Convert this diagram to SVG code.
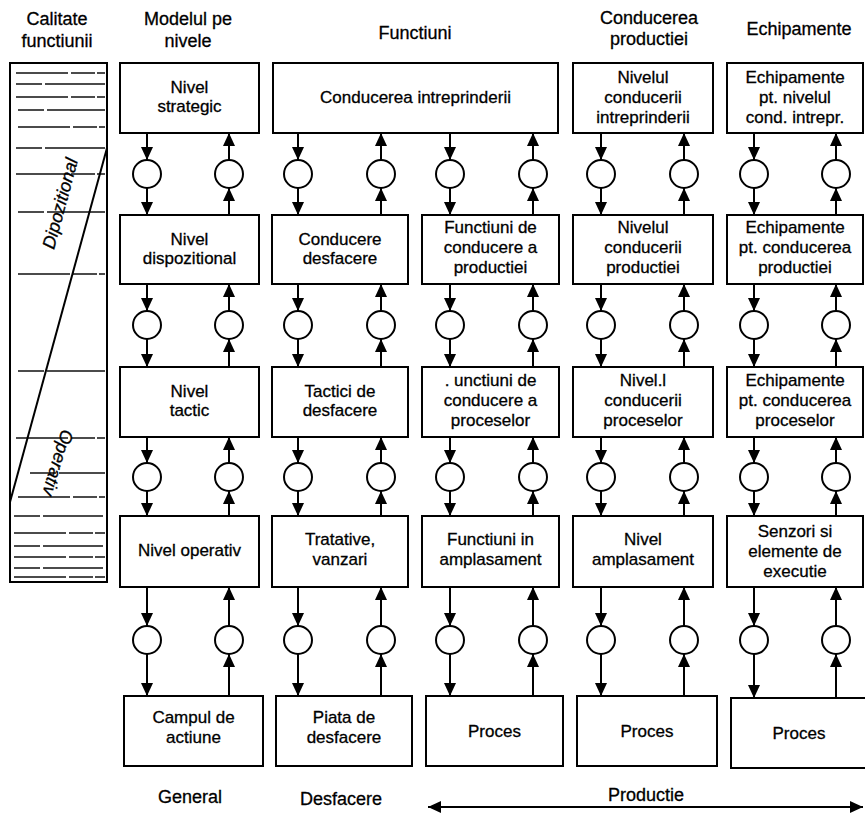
<svg xmlns="http://www.w3.org/2000/svg" width="865" height="814" viewBox="0 0 865 814">
  <defs>
    <marker id="arr" markerUnits="userSpaceOnUse" markerWidth="13" markerHeight="12" refX="13" refY="6" orient="auto">
      <path d="M0,0 L13,6 L0,12 Z" fill="#000"/>
    </marker>
    <marker id="arr2" markerUnits="userSpaceOnUse" markerWidth="13" markerHeight="12" refX="13" refY="6" orient="auto-start-reverse">
      <path d="M0,0 L13,6 L0,12 Z" fill="#000"/>
    </marker>
    <style>
      text { font-family: "Liberation Sans", Arial, sans-serif; fill: #000; stroke: #000; stroke-width: 0.3; }
      .hdr { font-size: 18px; text-anchor: middle; }
      .lbl { font-size: 17px; text-anchor: middle; }
      .side { font-size: 18px; font-style: italic; text-anchor: middle; }
      .box { fill: #fff; stroke: #000; stroke-width: 2; }
      .conn path { fill: none; stroke: #000; stroke-width: 2; marker-end: url(#arr); }
      .conn circle { fill: #fff; stroke: #000; stroke-width: 2; }
      .stripe { stroke: #111; stroke-width: 1.3; }
      .s1 { stroke-dasharray: 52 3 24 2; }
      .s2 { stroke-dasharray: 26 3 60 3; }
    </style>
  </defs>
  <rect width="865" height="814" fill="#fff"/>

  <!-- column headings -->
  <g id="headers">
    <text class="hdr" x="57" y="25">Calitate</text>
    <text class="hdr" x="57" y="47">functiunii</text>
    <text class="hdr" x="188" y="25">Modelul pe</text>
    <text class="hdr" x="188" y="47">nivele</text>
    <text class="hdr" x="415" y="39">Functiuni</text>
    <text class="hdr" x="649" y="24">Conducerea</text>
    <text class="hdr" x="649" y="45">productiei</text>
    <text class="hdr" x="799" y="35">Echipamente</text>
  </g>

  <!-- quality-of-function scale -->
  <g id="scale">
    <rect x="10" y="63" width="97" height="519" fill="#fff" stroke="#000" stroke-width="2"/>
    <g class="stripe">
      <line class="s1" x1="16" y1="73" x2="105" y2="73"/>
      <line class="s2" x1="16" y1="84" x2="105" y2="84"/>
      <line class="s1" x1="16" y1="97" x2="105" y2="97"/>
      <line class="s2" x1="18" y1="110" x2="105" y2="110"/>
      <line class="s1" x1="18" y1="127" x2="105" y2="127"/>
      <line class="s2" x1="16" y1="148" x2="105" y2="148"/>
      <line class="s1" x1="16" y1="174" x2="105" y2="174"/>
      <line class="s2" x1="18" y1="212" x2="105" y2="212"/>
      <line class="s1" x1="18" y1="274" x2="105" y2="274"/>
      <line class="s2" x1="18" y1="371" x2="105" y2="371"/>
      <line class="s1" x1="16" y1="438" x2="105" y2="438"/>
      <line class="s2" x1="30" y1="473" x2="105" y2="473"/>
      <line class="s1" x1="18" y1="497" x2="105" y2="497"/>
      <line class="s2" x1="14" y1="516" x2="105" y2="516"/>
      <line class="s1" x1="14" y1="533" x2="105" y2="533"/>
      <line class="s2" x1="14" y1="546" x2="105" y2="546"/>
      <line class="s1" x1="14" y1="557" x2="105" y2="557"/>
      <line class="s2" x1="14" y1="568" x2="105" y2="568"/>
      <line class="s1" x1="14" y1="577" x2="105" y2="577"/>
    </g>
    <line x1="10" y1="502" x2="107" y2="148" stroke="#000" stroke-width="2"/>
    <text class="side" transform="translate(66,205) rotate(-75)">Dipozitional</text>
    <text class="side" transform="translate(52,461) rotate(107)">Operativ</text>
  </g>

  <!-- connectors: arrows through the interface circles -->
  <g id="connectors" class="conn">
    <!-- column 1 -->
    <path d="M147 133V160"/><path d="M147 188V215"/><path d="M229 215V188"/><path d="M229 160V133"/>
    <path d="M147 284V311"/><path d="M147 339V367"/><path d="M229 367V339"/><path d="M229 311V284"/>
    <path d="M147 437V463"/><path d="M147 491V516"/><path d="M229 516V491"/><path d="M229 463V437"/>
    <path d="M147 587V626"/><path d="M147 654V696"/><path d="M229 696V654"/><path d="M229 626V587"/>
    <!-- column 2 -->
    <path d="M298 133V160"/><path d="M298 188V215"/><path d="M381 215V188"/><path d="M381 160V133"/>
    <path d="M298 284V311"/><path d="M298 339V367"/><path d="M381 367V339"/><path d="M381 311V284"/>
    <path d="M298 437V463"/><path d="M298 491V516"/><path d="M381 516V491"/><path d="M381 463V437"/>
    <path d="M298 587V626"/><path d="M298 654V696"/><path d="M381 696V654"/><path d="M381 626V587"/>
    <!-- column 3 -->
    <path d="M450 133V160"/><path d="M450 188V215"/><path d="M533 215V188"/><path d="M533 160V133"/>
    <path d="M450 284V311"/><path d="M450 339V367"/><path d="M533 367V339"/><path d="M533 311V284"/>
    <path d="M450 437V463"/><path d="M450 491V516"/><path d="M533 516V491"/><path d="M533 463V437"/>
    <path d="M450 587V626"/><path d="M450 654V696"/><path d="M533 696V654"/><path d="M533 626V587"/>
    <!-- column 4 -->
    <path d="M601 133V160"/><path d="M601 188V215"/><path d="M684 215V188"/><path d="M684 160V133"/>
    <path d="M601 284V311"/><path d="M601 339V367"/><path d="M684 367V339"/><path d="M684 311V284"/>
    <path d="M601 437V463"/><path d="M601 491V516"/><path d="M684 516V491"/><path d="M684 463V437"/>
    <path d="M601 587V626"/><path d="M601 654V696"/><path d="M684 696V654"/><path d="M684 626V587"/>
    <!-- column 5 -->
    <path d="M754 133V160"/><path d="M754 188V215"/><path d="M836 215V188"/><path d="M836 160V133"/>
    <path d="M754 284V311"/><path d="M754 339V367"/><path d="M836 367V339"/><path d="M836 311V284"/>
    <path d="M754 437V463"/><path d="M754 491V516"/><path d="M836 516V491"/><path d="M836 463V437"/>
    <path d="M754 587V626"/><path d="M754 654V698"/><path d="M836 698V654"/><path d="M836 626V587"/>

    <circle cx="147" cy="174" r="14"/><circle cx="229" cy="174" r="14"/>
    <circle cx="298" cy="174" r="14"/><circle cx="381" cy="174" r="14"/>
    <circle cx="450" cy="174" r="14"/><circle cx="533" cy="174" r="14"/>
    <circle cx="601" cy="174" r="14"/><circle cx="684" cy="174" r="14"/>
    <circle cx="754" cy="174" r="14"/><circle cx="836" cy="174" r="14"/>

    <circle cx="147" cy="325" r="14"/><circle cx="229" cy="325" r="14"/>
    <circle cx="298" cy="325" r="14"/><circle cx="381" cy="325" r="14"/>
    <circle cx="450" cy="325" r="14"/><circle cx="533" cy="325" r="14"/>
    <circle cx="601" cy="325" r="14"/><circle cx="684" cy="325" r="14"/>
    <circle cx="754" cy="325" r="14"/><circle cx="836" cy="325" r="14"/>

    <circle cx="147" cy="477" r="14"/><circle cx="229" cy="477" r="14"/>
    <circle cx="298" cy="477" r="14"/><circle cx="381" cy="477" r="14"/>
    <circle cx="450" cy="477" r="14"/><circle cx="533" cy="477" r="14"/>
    <circle cx="601" cy="477" r="14"/><circle cx="684" cy="477" r="14"/>
    <circle cx="754" cy="477" r="14"/><circle cx="836" cy="477" r="14"/>

    <circle cx="147" cy="640" r="14"/><circle cx="229" cy="640" r="14"/>
    <circle cx="298" cy="640" r="14"/><circle cx="381" cy="640" r="14"/>
    <circle cx="450" cy="640" r="14"/><circle cx="533" cy="640" r="14"/>
    <circle cx="601" cy="640" r="14"/><circle cx="684" cy="640" r="14"/>
    <circle cx="754" cy="640" r="14"/><circle cx="836" cy="640" r="14"/>

    <!-- production span arrow, heads at both ends -->
    <path d="M428 807H863" style="marker-start:url(#arr2);marker-end:url(#arr2)"/>
  </g>

  <!-- row 1 -->
  <g id="nivel-strategic">
    <rect class="box" x="120" y="63" width="139" height="70"/>
    <text class="lbl" x="189.5" y="93">Nivel</text>
    <text class="lbl" x="189.5" y="112">strategic</text>
  </g>
  <g id="conducerea-intreprinderii">
    <rect class="box" x="273" y="63" width="285" height="70"/>
    <text class="lbl" x="415.5" y="103">Conducerea intreprinderii</text>
  </g>
  <g id="nivelul-conducerii-intreprinderii">
    <rect class="box" x="573" y="63" width="140" height="70"/>
    <text class="lbl" x="643" y="83">Nivelul</text>
    <text class="lbl" x="643" y="103">conducerii</text>
    <text class="lbl" x="643" y="123">intreprinderii</text>
  </g>
  <g id="echipamente-intrepr">
    <rect class="box" x="727" y="63" width="136" height="70"/>
    <text class="lbl" x="795" y="83">Echipamente</text>
    <text class="lbl" x="795" y="103">pt. nivelul</text>
    <text class="lbl" x="795" y="123">cond. intrepr.</text>
  </g>

  <!-- row 2 -->
  <g id="nivel-dispozitional">
    <rect class="box" x="120" y="215" width="139" height="69"/>
    <text class="lbl" x="189.5" y="245">Nivel</text>
    <text class="lbl" x="189.5" y="264">dispozitional</text>
  </g>
  <g id="conducere-desfacere">
    <rect class="box" x="272" y="215" width="136" height="69"/>
    <text class="lbl" x="340" y="245">Conducere</text>
    <text class="lbl" x="340" y="264">desfacere</text>
  </g>
  <g id="functiuni-productie">
    <rect class="box" x="422" y="215" width="137" height="69"/>
    <text class="lbl" x="490.5" y="233">Functiuni de</text>
    <text class="lbl" x="490.5" y="253">conducere a</text>
    <text class="lbl" x="490.5" y="273">productiei</text>
  </g>
  <g id="nivelul-conducerii-productiei">
    <rect class="box" x="573" y="215" width="140" height="69"/>
    <text class="lbl" x="643" y="233">Nivelul</text>
    <text class="lbl" x="643" y="253">conducerii</text>
    <text class="lbl" x="643" y="273">productiei</text>
  </g>
  <g id="echipamente-productie">
    <rect class="box" x="727" y="215" width="136" height="69"/>
    <text class="lbl" x="795" y="233">Echipamente</text>
    <text class="lbl" x="795" y="253">pt. conducerea</text>
    <text class="lbl" x="795" y="273">productiei</text>
  </g>

  <!-- row 3 -->
  <g id="nivel-tactic">
    <rect class="box" x="120" y="367" width="139" height="70"/>
    <text class="lbl" x="189.5" y="397">Nivel</text>
    <text class="lbl" x="189.5" y="416">tactic</text>
  </g>
  <g id="tactici-desfacere">
    <rect class="box" x="272" y="367" width="136" height="70"/>
    <text class="lbl" x="340" y="397">Tactici de</text>
    <text class="lbl" x="340" y="416">desfacere</text>
  </g>
  <g id="functiuni-procese">
    <rect class="box" x="422" y="367" width="137" height="70"/>
    <text class="lbl" x="490.5" y="386">. unctiuni de</text>
    <text class="lbl" x="490.5" y="406">conducere a</text>
    <text class="lbl" x="490.5" y="426">proceselor</text>
  </g>
  <g id="nivelul-conducerii-proceselor">
    <rect class="box" x="573" y="367" width="140" height="70"/>
    <text class="lbl" x="643" y="386">Nivel.l</text>
    <text class="lbl" x="643" y="406">conducerii</text>
    <text class="lbl" x="643" y="426">proceselor</text>
  </g>
  <g id="echipamente-procese">
    <rect class="box" x="727" y="367" width="136" height="70"/>
    <text class="lbl" x="795" y="386">Echipamente</text>
    <text class="lbl" x="795" y="406">pt. conducerea</text>
    <text class="lbl" x="795" y="426">proceselor</text>
  </g>

  <!-- row 4 -->
  <g id="nivel-operativ">
    <rect class="box" x="120" y="516" width="139" height="71"/>
    <text class="lbl" x="189.5" y="556">Nivel operativ</text>
  </g>
  <g id="tratative-vanzari">
    <rect class="box" x="272" y="516" width="136" height="71"/>
    <text class="lbl" x="340" y="545">Tratative,</text>
    <text class="lbl" x="340" y="565">vanzari</text>
  </g>
  <g id="functiuni-amplasament">
    <rect class="box" x="422" y="516" width="137" height="71"/>
    <text class="lbl" x="490.5" y="545">Functiuni in</text>
    <text class="lbl" x="490.5" y="565">amplasament</text>
  </g>
  <g id="nivel-amplasament">
    <rect class="box" x="573" y="516" width="140" height="71"/>
    <text class="lbl" x="643" y="545">Nivel</text>
    <text class="lbl" x="643" y="565">amplasament</text>
  </g>
  <g id="senzori-elemente">
    <rect class="box" x="727" y="516" width="136" height="71"/>
    <text class="lbl" x="795" y="537">Senzori si</text>
    <text class="lbl" x="795" y="557">elemente de</text>
    <text class="lbl" x="795" y="577">executie</text>
  </g>

  <!-- row 5 -->
  <g id="campul-de-actiune">
    <rect class="box" x="124" y="696" width="139" height="70"/>
    <text class="lbl" x="193.5" y="723">Campul de</text>
    <text class="lbl" x="193.5" y="743">actiune</text>
  </g>
  <g id="piata-de-desfacere">
    <rect class="box" x="276" y="696" width="136" height="70"/>
    <text class="lbl" x="344" y="723">Piata de</text>
    <text class="lbl" x="344" y="743">desfacere</text>
  </g>
  <g id="proces-functiuni">
    <rect class="box" x="426" y="696" width="137" height="70"/>
    <text class="lbl" x="494.5" y="737">Proces</text>
  </g>
  <g id="proces-conducere">
    <rect class="box" x="577" y="696" width="140" height="70"/>
    <text class="lbl" x="647" y="737">Proces</text>
  </g>
  <g id="proces-echipamente">
    <rect class="box" x="731" y="698" width="136" height="70"/>
    <text class="lbl" x="799" y="739">Proces</text>
  </g>

  <!-- bottom domain labels -->
  <g id="domains">
    <text class="hdr" x="190" y="803">General</text>
    <text class="hdr" x="341" y="805">Desfacere</text>
    <text class="hdr" x="646" y="801">Productie</text>
  </g>
</svg>
